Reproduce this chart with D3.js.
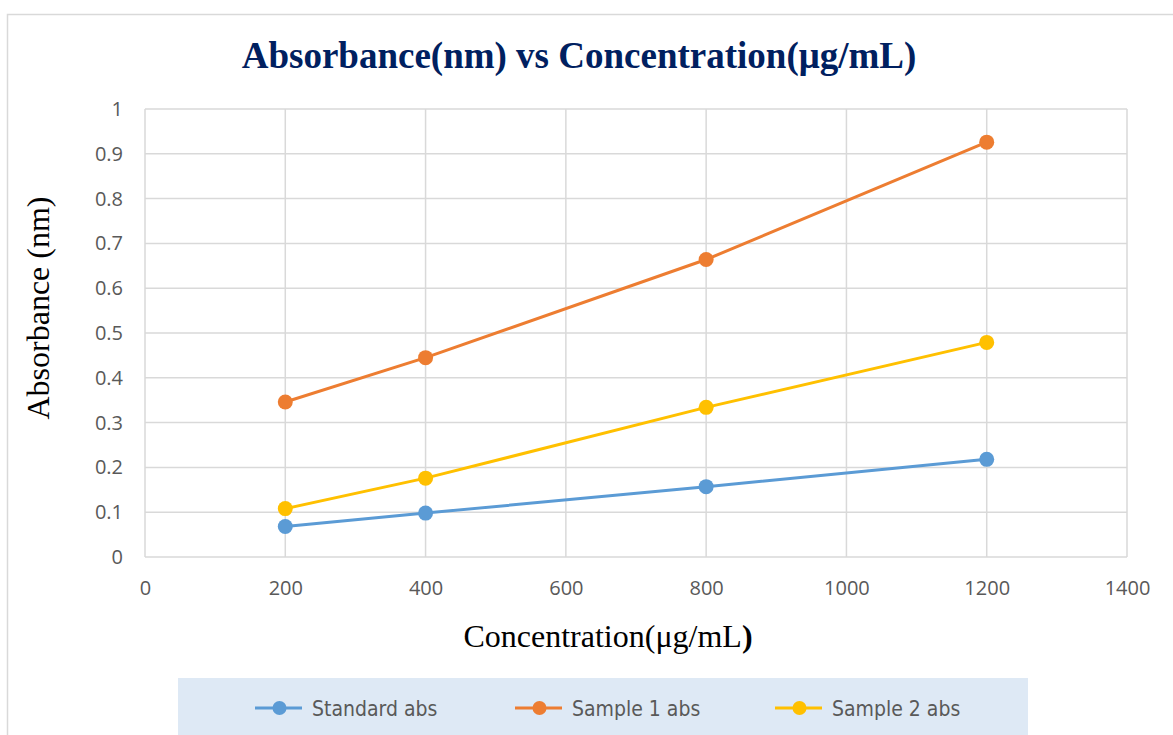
<!DOCTYPE html>
<html><head><meta charset="utf-8">
<script src="https://cdn.jsdelivr.net/npm/d3@7"></script>
<style>body{margin:0;background:#fff}svg{display:block}</style>
</head><body>
<script>
const concentrations = [200, 400, 800, 1200];
const standardAbs = [0.068, 0.098, 0.157, 0.218];
const sample1Abs = [0.346, 0.445, 0.664, 0.926];
const sample2Abs = [0.108, 0.176, 0.334, 0.479];
const seriesNames = ["Standard abs", "Sample 1 abs", "Sample 2 abs"];
const seriesColors = ["#5B9BD5", "#ED7D31", "#FFC000"];
const xTicks = [0, 200, 400, 600, 800, 1000, 1200, 1400];
const yTicks = [0, 0.1, 0.2, 0.3, 0.4, 0.5, 0.6, 0.7, 0.8, 0.9, 1];
const title = "Absorbance(nm) vs Concentration(μg/mL)";
const yTitle = "Absorbance (nm)";

const W = 1173, H = 735;
const svg = d3.select("body").append("svg").attr("width", W).attr("height", H);

// outer frame
svg.append("rect").attr("x", 7.5).attr("y", 14.5).attr("width", 1200).attr("height", 800)
  .attr("fill", "#fff").attr("stroke", "#d9d9d9").attr("stroke-width", 1.5);

const x = d3.scaleLinear().domain([0, 1400]).range([145, 1127]);
const y = d3.scaleLinear().domain([0, 1]).range([557, 109]);

// gridlines
const g = svg.append("g");
g.selectAll("line.h").data(yTicks).join("line")
  .attr("x1", x(0)).attr("x2", x(1400)).attr("y1", d => y(d)).attr("y2", d => y(d))
  .attr("stroke", "#d9d9d9").attr("stroke-width", 1.5);
g.selectAll("line.v").data(xTicks).join("line")
  .attr("y1", y(0)).attr("y2", y(1)).attr("x1", d => x(d)).attr("x2", d => x(d))
  .attr("stroke", "#d9d9d9").attr("stroke-width", 1.5);

// axes labels via d3 axes
const yAxis = svg.append("g").attr("transform", `translate(${x(0)},0)`)
  .call(d3.axisLeft(y).tickValues(yTicks).tickFormat(d => String(+d.toFixed(1))).tickSize(0).tickPadding(22));
const xAxis = svg.append("g").attr("transform", `translate(0,${y(0)})`)
  .call(d3.axisBottom(x).tickValues(xTicks).tickFormat(d3.format("d")).tickSize(0).tickPadding(24));
[yAxis, xAxis].forEach(a => {
  a.select(".domain").remove();
  a.selectAll("text").attr("font-family", "'Open Sans', sans-serif").attr("font-size", 20).attr("fill", "#595959");
});

// series
const allSeries = [standardAbs, sample1Abs, sample2Abs];
const line = d3.line().x((d, i) => x(concentrations[i])).y(d => y(d));
allSeries.forEach((vals, si) => {
  svg.append("path").datum(vals).attr("d", line).attr("fill", "none")
    .attr("stroke", seriesColors[si]).attr("stroke-width", 3).attr("stroke-linecap", "round");
  svg.selectAll(null).data(vals).join("circle")
    .attr("cx", (d, i) => x(concentrations[i])).attr("cy", d => y(d)).attr("r", 7.5)
    .attr("fill", seriesColors[si]);
});

// title
svg.append("text").attr("x", 579).attr("y", 68).attr("text-anchor", "middle")
  .attr("font-family", "'Liberation Serif', 'Times New Roman', serif").attr("font-weight", "bold")
  .attr("font-size", 37).attr("fill", "#002060").text(title);

// y title
svg.append("text").attr("transform", "translate(49,308) rotate(-90)").attr("text-anchor", "middle")
  .attr("font-family", "'Liberation Serif', serif").attr("font-size", 32).attr("fill", "#000").text(yTitle);

// x title
const xt = svg.append("text").attr("x", 608).attr("y", 647).attr("text-anchor", "middle")
  .attr("font-family", "'Liberation Serif', serif").attr("font-size", 32).attr("fill", "#000");
xt.append("tspan").text("Concentration(μg/mL");
xt.append("tspan").attr("font-weight", "bold").text(")");

// legend
svg.append("rect").attr("x", 178).attr("y", 678).attr("width", 850).attr("height", 80).attr("fill", "#DEE9F5");
const legX = [255, 515, 775];
seriesNames.forEach((n, i) => {
  const lg = svg.append("g").attr("transform", `translate(${legX[i]},708)`);
  lg.append("line").attr("x1", 0).attr("x2", 47).attr("stroke", seriesColors[i]).attr("stroke-width", 3);
  lg.append("circle").attr("cx", 24.5).attr("r", 7).attr("fill", seriesColors[i]);
  lg.append("text").attr("x", 57).attr("y", 7.5).attr("font-family", "'Liberation Sans Narrow', 'DejaVu Sans Condensed', sans-serif")
    .attr("font-size", 21).attr("fill", "#595959").text(n);
});
</script>
</body></html>
